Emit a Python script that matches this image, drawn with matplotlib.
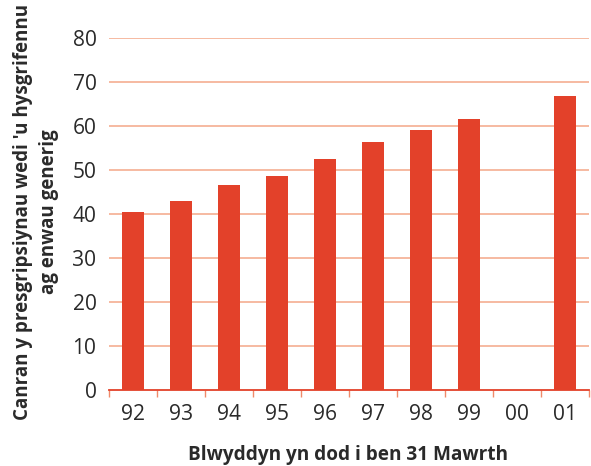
import matplotlib
matplotlib.use("Agg")
import matplotlib.pyplot as plt
from matplotlib import font_manager as fm
import numpy as np

years = ["92", "93", "94", "95", "96", "97", "98", "99", "00", "01"]
values = [40.4, 43.0, 46.7, 48.7, 52.5, 56.4, 59.1, 61.6, np.nan, 66.8]
yticks = [0, 10, 20, 30, 40, 50, 60, 70, 80]

def pick(cands):
    for c in cands:
        try:
            fm.findfont(fm.FontProperties(family=c), fallback_to_default=False)
            return c
        except Exception:
            continue
    return "DejaVu Sans"

narrow = pick(["Liberation Sans Narrow", "Open Sans"])
plt.rcParams['font.family'] = [narrow, 'DejaVu Sans']

fig = plt.figure(figsize=(5.91, 4.66), dpi=100)
ax = fig.add_axes([109/591, 1-390/466, 480/591, 352/466])

x = np.arange(len(years))
vals = np.array(values, dtype=float)
mask = ~np.isnan(vals)
ax.bar(x[mask], vals[mask], width=0.46, color="#e3412a", zorder=3)

ax.set_xlim(-0.5, len(years) - 0.5)
ax.set_ylim(0, 80)
ax.set_yticks(yticks)
ax.set_xticks(x)
ax.set_xticklabels(years)
ax.set_xticks(np.arange(-0.5, len(years), 1), minor=True)

for y in yticks[1:]:
    ax.axhline(y, color="#f6b49a", lw=1.3, zorder=1)

for s in ["left", "right", "top"]:
    ax.spines[s].set_visible(False)
ax.spines["bottom"].set_color("#e3412a")
ax.spines["bottom"].set_linewidth(1.3)
ax.spines["bottom"].set_zorder(4)

ax.tick_params(axis="y", length=0, labelsize=17, colors="#2a2a2a", pad=9)
ax.tick_params(axis="x", which="major", length=0, labelsize=17, colors="#2a2a2a", pad=10)
ax.tick_params(axis="x", which="minor", length=5, width=1, color="#f08a6a")

xl = fig.text(348/591, 1-455/466, "Blwyddyn yn dod i ben 31 Mawrth", fontsize=13,
              fontweight="bold", color="#2a2a2a", ha="center", va="center")
yl = fig.text(36/591, 1-212/466, "Canran y presgripsiynau wedi 'u hysgrifennu\nag enwau generig",
              fontsize=13, fontweight="bold", color="#2a2a2a", ha="center", va="center",
              rotation=90, linespacing=1.45, multialignment="center")

fig.canvas.draw()
r = fig.canvas.get_renderer()
w = xl.get_window_extent(r).width
xl.set_fontsize(13 * 319 / w)
h = yl.get_window_extent(r).height
yl.set_fontsize(13 * 412 / h)

tl = ax.get_yticklabels()[-1]
tw = tl.get_window_extent(r).width
fs = 17 * 24 / tw
ax.tick_params(axis="both", labelsize=fs)

fig.savefig("out.png", dpi=100)
